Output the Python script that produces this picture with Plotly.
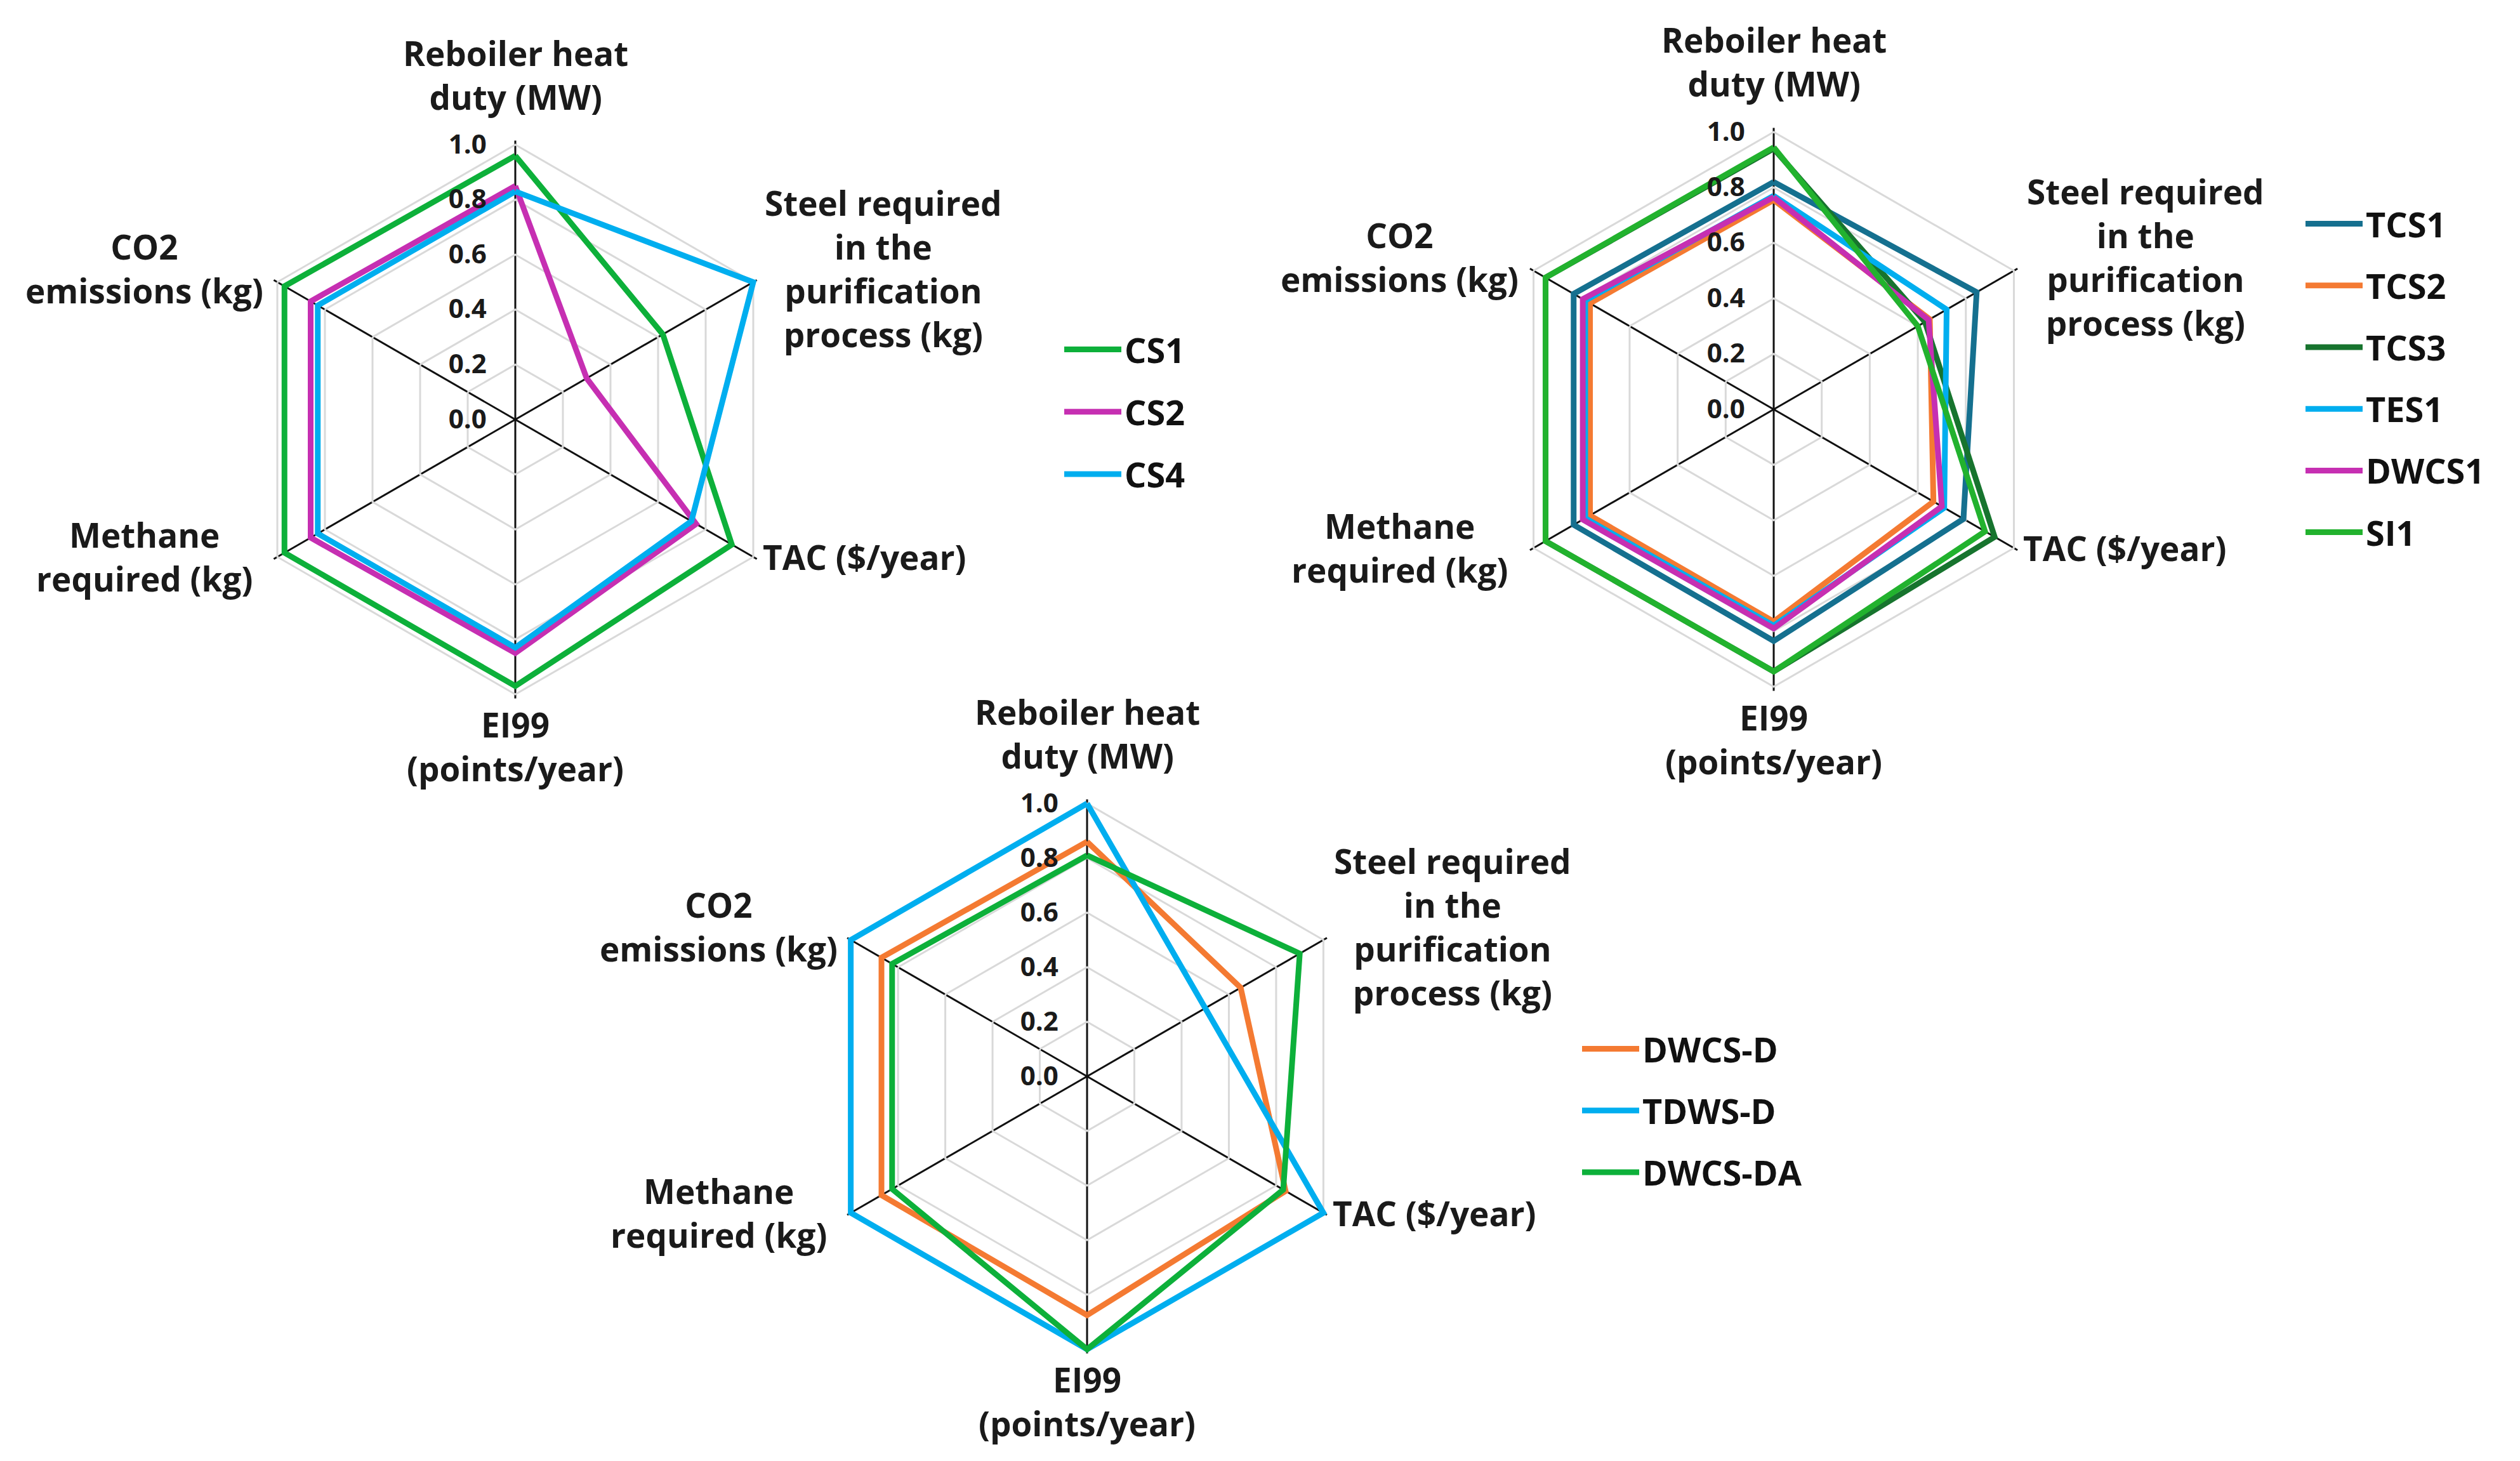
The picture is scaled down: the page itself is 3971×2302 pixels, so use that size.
import plotly.graph_objects as go

W, H = 3971, 2302

categories = ["Reboiler heat duty (MW)", "Steel required in the purification process (kg)",
              "TAC ($/year)", "EI99 (points/year)", "Methane required (kg)", "CO2 emissions (kg)"]
category_labels = ["Reboiler heat<br>duty (MW)", "Steel required<br>in the<br>purification<br>process (kg)",
                   "TAC ($/year)", "EI99<br>(points/year)", "Methane<br>required (kg)", "CO2<br>emissions (kg)"]
tick_values = [0.0, 0.2, 0.4, 0.6, 0.8, 1.0]

# Chart 1
cs1 = [0.96, 0.62, 0.91, 0.97, 0.97, 0.97]
cs2 = [0.85, 0.30, 0.76, 0.85, 0.86, 0.86]
cs4 = [0.83, 1.00, 0.74, 0.83, 0.83, 0.83]
# Chart 2
tcs1 = [0.82, 0.845, 0.79, 0.835, 0.833, 0.833]
tcs2 = [0.755, 0.65, 0.665, 0.765, 0.765, 0.765]
tcs3 = [0.94, 0.63, 0.92, 0.945, 0.95, 0.95]
tes1 = [0.77, 0.72, 0.71, 0.78, 0.785, 0.785]
dwcs1 = [0.765, 0.645, 0.70, 0.79, 0.795, 0.795]
si1 = [0.945, 0.60, 0.88, 0.945, 0.95, 0.95]
# Chart 3
dwcs_d = [0.86, 0.65, 0.84, 0.875, 0.87, 0.87]
tdws_d = [1.00, 0.50, 1.00, 1.00, 1.00, 1.00]
dwcs_da = [0.81, 0.90, 0.83, 1.00, 0.825, 0.825]

GREEN = "#0DB03A"
MAGENTA = "#C62FB2"
LBLUE = "#00AEEF"
ORANGE = "#F47A32"
TEAL = "#15708F"
DGREEN = "#17742E"

charts = [
    dict(name="polar", legend="legend", cx=804, cy=653, R=433,
         series=[("CS1", cs1, GREEN), ("CS2", cs2, MAGENTA), ("CS4", cs4, LBLUE)],
         leg_x=1664, leg_y=641, gap=25),
    dict(name="polar2", legend="legend2", cx=2787, cy=637, R=437,
         series=[("TCS1", tcs1, TEAL), ("TCS2", tcs2, ORANGE), ("TCS3", tcs3, DGREEN),
                 ("TES1", tes1, LBLUE), ("DWCS1", dwcs1, MAGENTA), ("SI1", si1, "#22B22E")],
         leg_x=3620, leg_y=588, gap=24),
    dict(name="polar3", legend="legend3", cx=1705, cy=1688, R=430,
         series=[("DWCS-D", dwcs_d, ORANGE), ("TDWS-D", tdws_d, LBLUE), ("DWCS-DA", dwcs_da, GREEN)],
         leg_x=2480, leg_y=1742, gap=24),
]

FONT = "Open Sans"
RMAX = 1.015  # small headroom so lines at 1.0 are not clipped
fig = go.Figure()
layout = dict(width=W, height=H, margin=dict(l=0, r=0, t=0, b=0),
              paper_bgcolor="white", plot_bgcolor="white", annotations=[])

# relative label placements (in units of R, y downward)
label_pos = [(0, -1.255, "center"), (1.34, -0.55, "center"), (0.895, 0.50, "left"),
             (0, 1.19, "center"), (-1.35, 0.50, "center"), (-1.35, -0.55, "center")]

for ch in charts:
    for i, (nm, vals, col) in enumerate(ch["series"]):
        fig.add_trace(go.Scatterpolar(
            r=vals + vals[:1], theta=categories + categories[:1], mode="lines",
            name=nm, line=dict(color=col, width=9), subplot=ch["name"],
            legend=ch["legend"], legendgroup=ch["name"] + nm))
    cx, cy, R = ch["cx"], ch["cy"], ch["R"]
    Rd = R * RMAX
    layout[ch["name"]] = dict(
        domain=dict(x=[(cx - Rd) / W, (cx + Rd) / W], y=[1 - (cy + Rd) / H, 1 - (cy - Rd) / H]),
        bgcolor="white", gridshape="linear",
        angularaxis=dict(rotation=90, direction="clockwise", categoryorder="array",
                         categoryarray=categories, showticklabels=False, ticks="",
                         gridcolor="#111111", gridwidth=2.5, showline=False),
        radialaxis=dict(range=[0, RMAX], tickvals=tick_values, tickformat=".1f", angle=90,
                        tickangle=90, side="counterclockwise", showline=False,
                        gridcolor="#d9d9d9", gridwidth=3, ticks="outside", ticklen=30,
                        tickcolor="rgba(0,0,0,0)",
                        tickfont=dict(family=FONT, size=42, color="#1a1a1a", weight="bold")),
    )
    for lab, (fx, fy, anchor) in zip(category_labels, label_pos):
        px = cx + fx * R
        py = cy + fy * R
        layout["annotations"].append(dict(
            x=px / W, y=1 - py / H, xref="paper", yref="paper", text=lab, showarrow=False,
            xanchor=anchor, yanchor="middle", align="center",
            font=dict(family=FONT, size=53, color="#1a1a1a", weight="bold")))
    layout[ch["legend"]] = dict(
        x=ch["leg_x"] / W, y=1 - ch["leg_y"] / H, xanchor="left", yanchor="middle",
        font=dict(family=FONT, size=54, color="#111111", weight="bold"),
        tracegroupgap=ch["gap"], itemwidth=90, bgcolor="rgba(0,0,0,0)")

fig.update_layout(**layout)
fig.write_html("out.html")
